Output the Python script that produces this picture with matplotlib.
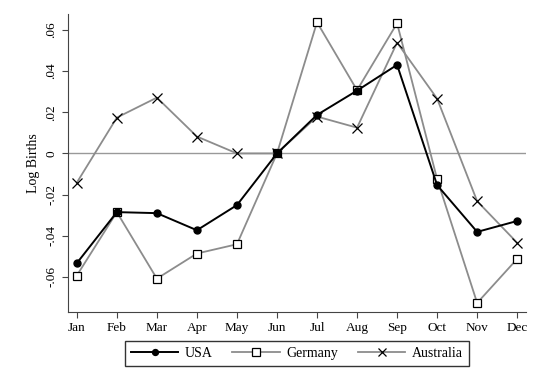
import numpy as np
import matplotlib.pyplot as plt

plt.rcParams['font.family'] = ['Liberation Serif', 'DejaVu Serif']

months = ['Jan', 'Feb', 'Mar', 'Apr', 'May', 'Jun',
          'Jul', 'Aug', 'Sep', 'Oct', 'Nov', 'Dec']
usa = [-0.0533, -0.0285, -0.0290, -0.0373, -0.0251, 0.0,
       0.0187, 0.0305, 0.0430, -0.0154, -0.0381, -0.0328]
germany = [-0.0593, -0.0285, -0.0608, -0.0486, -0.0441, 0.0,
           0.0637, 0.0307, 0.0632, -0.0125, -0.0726, -0.0512]
australia = [-0.0142, 0.0174, 0.0271, 0.0082, 0.0, 0.0,
             0.0179, 0.0125, 0.0538, 0.0266, -0.0232, -0.0434]
yticks = [-0.06, -0.04, -0.02, 0, 0.02, 0.04, 0.06]
yticklabels = ['-.06', '-.04', '-.02', '0', '.02', '.04', '.06']

x = np.arange(1, len(months) + 1)
grey = '#8c8c8c'

fig = plt.figure(figsize=(5.51, 3.81), dpi=100)
ax = fig.add_axes([68 / 551, 1 - 312 / 381, (526 - 68) / 551, (312 - 14) / 381])

ax.axhline(0, color='#999999', linewidth=1.0, zorder=1)
ax.plot(x, usa, color='black', linewidth=1.4, marker='o', markersize=5,
        label='USA', zorder=4)
ax.plot(x, germany, color=grey, linewidth=1.3, marker='s', markersize=6,
        markerfacecolor='white', markeredgecolor='black', markeredgewidth=0.9,
        label='Germany', zorder=3)
ax.plot(x, australia, color=grey, linewidth=1.3, marker='x', markersize=7,
        markeredgecolor='black', markeredgewidth=0.9,
        label='Australia', zorder=3)

ax.set_xlim(0.78, 12.22)
ax.set_ylim(-0.077, 0.0677)
ax.set_xticks(x)
ax.set_xticklabels(months)
ax.set_yticks(yticks)
ax.set_yticklabels(yticklabels, rotation=90, va='center')
ax.set_ylabel('Log Births', fontsize=10)

ax.spines['top'].set_visible(False)
ax.spines['right'].set_visible(False)
for s in ['left', 'bottom']:
    ax.spines[s].set_color('#444444')
ax.tick_params(axis='both', labelsize=9.5, color='#444444', length=4)

leg = fig.legend(loc='center', bbox_to_anchor=(297 / 551, 1 - 353.5 / 381), ncol=3,
                 frameon=True, fancybox=False, edgecolor='black', fontsize=10,
                 handlelength=3.4, handletextpad=0.5, columnspacing=1.4,
                 borderpad=0.45, markerscale=0.85)
leg.get_frame().set_linewidth(1.0)

fig.savefig('out.png', dpi=100)
